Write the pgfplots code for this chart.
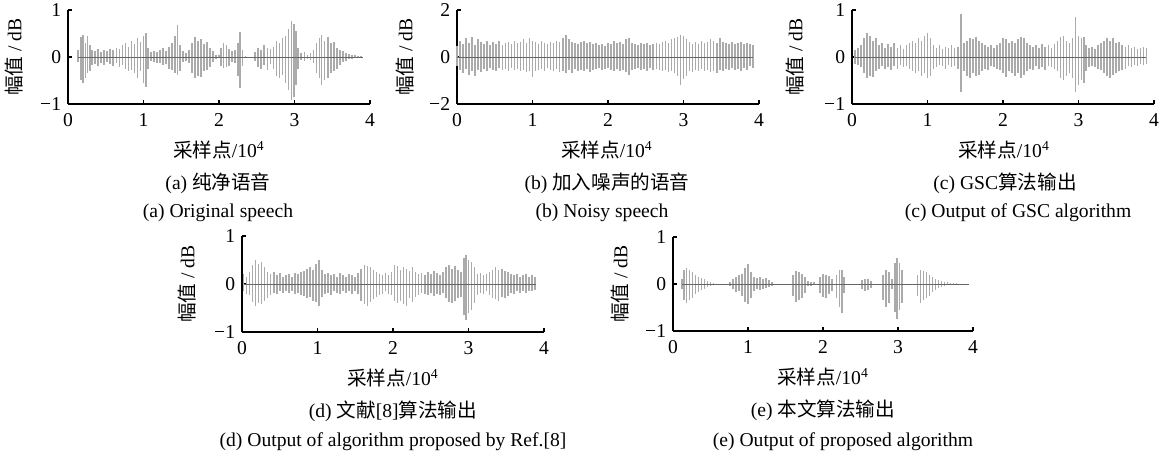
\documentclass[border=0pt]{standalone}
\usepackage{fontspec}
\setmainfont{Liberation Serif}
\newfontfamily\cjk{Noto Sans CJK SC}
\usepackage{pgfplots}
\usepackage{pgfplotstable}
\pgfplotsset{compat=1.18}

\pgfplotstableread{
x hi lo
0.13 0.15 -0.10
0.17 0.42 -0.50
0.20 0.47 -0.55
0.23 0.30 -0.45
0.26 0.44 -0.35
0.29 0.25 -0.30
0.32 0.15 -0.18
0.36 0.12 -0.15
0.40 0.16 -0.20
0.44 0.10 -0.12
0.48 0.14 -0.18
0.52 0.12 -0.10
0.56 0.18 -0.15
0.60 0.15 -0.20
0.64 0.20 -0.12
0.68 0.18 -0.22
0.72 0.25 -0.18
0.76 0.30 -0.25
0.80 0.22 -0.30
0.84 0.35 -0.28
0.88 0.28 -0.35
0.92 0.40 -0.45
0.96 0.32 -0.30
1.00 0.45 -0.55
1.03 0.50 -0.63
1.06 0.20 -0.25
1.10 0.10 -0.08
1.14 0.12 -0.10
1.18 0.10 -0.12
1.22 0.15 -0.12
1.26 0.20 -0.18
1.30 0.12 -0.15
1.34 0.22 -0.25
1.38 0.30 -0.28
1.42 0.45 -0.35
1.45 0.69 -0.38
1.48 0.25 -0.30
1.52 0.12 -0.10
1.56 0.08 -0.08
1.60 0.15 -0.12
1.64 0.30 -0.35
1.68 0.42 -0.45
1.72 0.35 -0.40
1.76 0.38 -0.42
1.80 0.28 -0.30
1.84 0.32 -0.28
1.88 0.20 -0.22
1.92 0.12 -0.10
1.96 0.05 -0.04
2.00 0.04 -0.03
2.03 0.20 -0.20
2.06 0.29 -0.24
2.10 0.25 -0.22
2.13 0.18 -0.20
2.17 0.12 -0.10
2.21 0.15 -0.12
2.25 0.30 -0.40
2.28 0.54 -0.67
2.31 0.15 -0.20
2.35 0.02 -0.02
2.48 0.10 -0.08
2.52 0.20 -0.22
2.56 0.15 -0.25
2.60 0.25 -0.18
2.64 0.20 -0.28
2.68 0.18 -0.15
2.72 0.22 -0.25
2.76 0.35 -0.40
2.80 0.30 -0.45
2.84 0.40 -0.38
2.88 0.45 -0.55
2.92 0.60 -0.70
2.96 0.77 -0.91
2.99 0.70 -0.85
3.02 0.55 -0.60
3.05 0.20 -0.25
3.09 0.08 -0.06
3.13 0.10 -0.08
3.17 0.05 -0.05
3.21 0.08 -0.06
3.25 0.15 -0.12
3.29 0.30 -0.35
3.33 0.40 -0.45
3.36 0.47 -0.60
3.40 0.35 -0.50
3.44 0.42 -0.45
3.48 0.30 -0.35
3.52 0.32 -0.30
3.56 0.20 -0.25
3.60 0.15 -0.18
3.64 0.12 -0.10
3.68 0.08 -0.08
3.72 0.06 -0.05
3.76 0.05 -0.04
3.80 0.04 -0.03
3.84 0.03 -0.02
3.88 0.02 -0.02
}\tA

\pgfplotstableread{
x hi lo
0.00 0.45 -0.40
0.04 0.70 -0.55
0.08 0.55 -0.70
0.12 0.80 -0.50
0.16 0.60 -0.75
0.20 0.85 -0.60
0.24 0.50 -0.80
0.28 0.75 -0.55
0.32 0.65 -0.65
0.36 0.55 -0.50
0.40 0.70 -0.60
0.44 0.50 -0.45
0.48 0.65 -0.55
0.52 0.55 -0.60
0.56 0.70 -0.45
0.60 0.50 -0.55
0.64 0.60 -0.50
0.68 0.65 -0.60
0.72 0.55 -0.45
0.76 0.70 -0.55
0.80 0.60 -0.50
0.84 0.65 -0.60
0.88 0.75 -0.55
0.92 0.60 -0.65
0.96 0.80 -0.60
1.00 0.70 -0.85
1.04 0.65 -0.60
1.08 0.55 -0.55
1.12 0.70 -0.50
1.16 0.60 -0.60
1.20 0.55 -0.45
1.24 0.65 -0.55
1.28 0.60 -0.60
1.32 0.70 -0.50
1.36 0.65 -0.65
1.40 0.80 -0.60
1.44 0.94 -0.70
1.48 0.75 -0.55
1.52 0.65 -0.70
1.56 0.60 -0.50
1.60 0.55 -0.60
1.64 0.65 -0.55
1.68 0.70 -0.60
1.72 0.60 -0.50
1.76 0.65 -0.65
1.80 0.55 -0.55
1.84 0.60 -0.50
1.88 0.50 -0.45
1.92 0.55 -0.55
1.96 0.45 -0.50
2.00 0.60 -0.45
2.04 0.55 -0.55
2.08 0.70 -0.60
2.12 0.60 -0.50
2.16 0.65 -0.60
2.20 0.55 -0.55
2.24 0.75 -0.65
2.28 0.80 -0.75
2.32 0.60 -0.55
2.36 0.55 -0.50
2.40 0.50 -0.45
2.44 0.60 -0.55
2.48 0.55 -0.50
2.52 0.60 -0.60
2.56 0.50 -0.45
2.60 0.55 -0.55
2.64 0.60 -0.50
2.68 0.55 -0.55
2.72 0.65 -0.60
2.76 0.70 -0.55
2.80 0.60 -0.65
2.84 0.75 -0.60
2.88 0.80 -0.70
2.92 0.85 -0.80
2.96 0.94 -1.20
3.00 0.90 -0.95
3.04 0.75 -0.80
3.08 0.65 -0.60
3.12 0.55 -0.65
3.16 0.65 -0.55
3.20 0.55 -0.60
3.24 0.70 -0.50
3.28 0.60 -0.60
3.32 0.65 -0.55
3.36 0.75 -0.65
3.40 0.70 -0.60
3.44 0.60 -0.70
3.48 0.80 -0.55
3.52 0.65 -0.60
3.56 0.60 -0.50
3.60 0.55 -0.55
3.64 0.65 -0.45
3.68 0.55 -0.55
3.72 0.60 -0.50
3.76 0.65 -0.60
3.80 0.55 -0.45
3.84 0.60 -0.55
3.88 0.55 -0.40
3.92 0.50 -0.45
}\tB

\pgfplotstableread{
x hi lo
0.04 0.15 -0.15
0.08 0.20 -0.18
0.12 0.25 -0.22
0.16 0.40 -0.35
0.20 0.52 -0.45
0.24 0.45 -0.40
0.28 0.35 -0.42
0.32 0.40 -0.30
0.36 0.25 -0.25
0.40 0.30 -0.20
0.44 0.20 -0.25
0.48 0.28 -0.22
0.52 0.22 -0.28
0.56 0.30 -0.20
0.60 0.20 -0.25
0.64 0.25 -0.18
0.68 0.18 -0.22
0.72 0.25 -0.20
0.76 0.30 -0.25
0.80 0.35 -0.30
0.84 0.30 -0.35
0.88 0.40 -0.30
0.92 0.35 -0.40
0.96 0.45 -0.35
1.00 0.52 -0.45
1.04 0.40 -0.40
1.08 0.25 -0.25
1.12 0.20 -0.22
1.16 0.25 -0.18
1.20 0.18 -0.20
1.24 0.22 -0.25
1.28 0.20 -0.18
1.32 0.25 -0.22
1.36 0.20 -0.20
1.40 0.22 -0.25
1.44 0.92 -0.74
1.48 0.30 -0.30
1.52 0.35 -0.40
1.56 0.40 -0.45
1.60 0.38 -0.35
1.64 0.42 -0.40
1.68 0.35 -0.38
1.72 0.30 -0.30
1.76 0.25 -0.25
1.80 0.22 -0.28
1.84 0.25 -0.20
1.88 0.20 -0.22
1.92 0.25 -0.25
1.96 0.30 -0.28
2.00 0.40 -0.35
2.04 0.38 -0.42
2.08 0.30 -0.30
2.12 0.35 -0.35
2.16 0.30 -0.40
2.20 0.38 -0.35
2.24 0.42 -0.45
2.28 0.40 -0.38
2.32 0.30 -0.30
2.36 0.25 -0.25
2.40 0.22 -0.28
2.44 0.25 -0.20
2.48 0.20 -0.25
2.52 0.28 -0.22
2.56 0.22 -0.28
2.60 0.25 -0.20
2.64 0.20 -0.22
2.68 0.28 -0.25
2.72 0.35 -0.30
2.76 0.42 -0.45
2.80 0.45 -0.50
2.84 0.35 -0.40
2.88 0.30 -0.35
2.92 0.40 -0.45
2.96 0.85 -0.74
3.00 0.45 -0.60
3.04 0.40 -0.50
3.07 0.42 -0.55
3.10 0.25 -0.30
3.14 0.20 -0.22
3.18 0.22 -0.20
3.22 0.18 -0.22
3.26 0.25 -0.25
3.30 0.30 -0.28
3.34 0.35 -0.35
3.38 0.40 -0.40
3.42 0.35 -0.45
3.46 0.40 -0.38
3.50 0.30 -0.35
3.54 0.32 -0.30
3.58 0.25 -0.28
3.62 0.22 -0.25
3.66 0.25 -0.20
3.70 0.20 -0.22
3.74 0.22 -0.18
3.78 0.18 -0.20
3.82 0.20 -0.15
3.86 0.22 -0.18
3.90 0.20 -0.15
}\tC

\pgfplotstableread{
x hi lo
0.02 0.20 -0.15
0.06 0.15 -0.20
0.10 0.25 -0.22
0.14 0.40 -0.38
0.18 0.49 -0.45
0.22 0.42 -0.40
0.26 0.45 -0.42
0.30 0.35 -0.35
0.34 0.25 -0.30
0.38 0.20 -0.22
0.42 0.25 -0.18
0.46 0.18 -0.20
0.50 0.22 -0.15
0.54 0.15 -0.18
0.58 0.18 -0.15
0.62 0.20 -0.18
0.66 0.15 -0.15
0.70 0.22 -0.20
0.74 0.20 -0.18
0.78 0.25 -0.22
0.82 0.28 -0.25
0.86 0.32 -0.30
0.90 0.35 -0.28
0.94 0.30 -0.35
0.98 0.42 -0.38
1.02 0.49 -0.45
1.06 0.30 -0.28
1.10 0.20 -0.20
1.14 0.22 -0.18
1.18 0.18 -0.22
1.22 0.20 -0.15
1.26 0.15 -0.18
1.30 0.22 -0.20
1.34 0.18 -0.15
1.38 0.15 -0.18
1.42 0.20 -0.15
1.46 0.18 -0.20
1.50 0.15 -0.15
1.54 0.22 -0.20
1.58 0.32 -0.35
1.62 0.40 -0.42
1.66 0.38 -0.45
1.70 0.35 -0.38
1.74 0.30 -0.32
1.78 0.25 -0.28
1.82 0.20 -0.22
1.86 0.18 -0.20
1.90 0.22 -0.15
1.94 0.18 -0.20
1.98 0.25 -0.22
2.02 0.40 -0.35
2.06 0.38 -0.40
2.10 0.30 -0.35
2.14 0.35 -0.42
2.18 0.32 -0.45
2.22 0.28 -0.30
2.26 0.35 -0.38
2.30 0.25 -0.28
2.34 0.20 -0.22
2.38 0.22 -0.18
2.42 0.18 -0.20
2.46 0.25 -0.22
2.50 0.20 -0.18
2.54 0.28 -0.25
2.58 0.22 -0.20
2.62 0.18 -0.22
2.66 0.25 -0.18
2.70 0.35 -0.30
2.74 0.40 -0.38
2.78 0.32 -0.40
2.82 0.38 -0.35
2.86 0.30 -0.30
2.90 0.25 -0.28
2.94 0.55 -0.65
2.97 0.61 -0.76
3.00 0.50 -0.60
3.04 0.45 -0.55
3.08 0.35 -0.40
3.12 0.20 -0.22
3.16 0.22 -0.18
3.20 0.18 -0.20
3.24 0.20 -0.15
3.28 0.25 -0.22
3.32 0.30 -0.30
3.36 0.35 -0.32
3.40 0.30 -0.35
3.44 0.32 -0.28
3.48 0.28 -0.30
3.52 0.25 -0.25
3.56 0.20 -0.18
3.60 0.18 -0.20
3.64 0.20 -0.15
3.68 0.15 -0.18
3.72 0.18 -0.15
3.76 0.20 -0.18
3.80 0.15 -0.15
3.84 0.18 -0.15
3.88 0.15 -0.12
}\tD

\pgfplotstableread{
x hi lo
0.12 0.10 -0.10
0.15 0.30 -0.35
0.18 0.34 -0.41
0.22 0.30 -0.35
0.26 0.25 -0.30
0.30 0.20 -0.22
0.34 0.15 -0.18
0.38 0.12 -0.12
0.42 0.10 -0.10
0.46 0.07 -0.06
0.50 0.05 -0.04
0.54 0.03 -0.03
0.76 0.05 -0.05
0.80 0.10 -0.10
0.84 0.15 -0.18
0.88 0.20 -0.15
0.92 0.22 -0.25
0.96 0.35 -0.38
1.00 0.43 -0.42
1.04 0.25 -0.30
1.08 0.15 -0.15
1.12 0.12 -0.10
1.16 0.15 -0.12
1.20 0.10 -0.10
1.24 0.12 -0.08
1.28 0.08 -0.06
1.32 0.05 -0.04
1.60 0.20 -0.25
1.64 0.27 -0.38
1.68 0.25 -0.35
1.72 0.22 -0.30
1.76 0.15 -0.20
1.80 0.06 -0.05
1.84 0.04 -0.04
1.88 0.05 -0.03
1.96 0.15 -0.20
2.00 0.22 -0.28
2.04 0.20 -0.30
2.08 0.18 -0.22
2.12 0.10 -0.15
2.18 0.20 -0.30
2.22 0.30 -0.50
2.25 0.30 -0.62
2.28 0.15 -0.20
2.52 0.08 -0.10
2.56 0.10 -0.15
2.60 0.10 -0.12
2.64 0.06 -0.08
2.80 0.20 -0.35
2.84 0.30 -0.50
2.88 0.25 -0.40
2.92 0.10 -0.10
2.96 0.45 -0.60
2.99 0.55 -0.74
3.02 0.45 -0.55
3.05 0.30 -0.40
3.26 0.20 -0.25
3.30 0.30 -0.40
3.34 0.28 -0.35
3.38 0.25 -0.30
3.42 0.20 -0.25
3.46 0.15 -0.18
3.50 0.10 -0.12
3.54 0.08 -0.08
3.58 0.06 -0.06
3.62 0.05 -0.04
3.66 0.04 -0.03
3.70 0.03 -0.03
3.74 0.03 -0.02
3.78 0.02 -0.02
}\tE

\pgfplotsset{
  wave/.style={
    scale only axis, width=151pt, height=47pt,
    xmin=0, xmax=4, ymin=-1, ymax=1,
    axis lines=left, axis line style={-, line width=0.6pt},
    tick align=inside, major tick length=2.2pt,
    tick style={black, line width=0.6pt},
    xtick={0,1,2,3,4}, ytick={-1,0,1}, yticklabels={−1,0,1},
    /pgf/number format/assume math mode=true,
    xticklabel style={yshift=-1.5pt},
    clip=false, anchor=south west,
  },
  spike/.style={ycomb, no markers, draw=black!33, line width=0.8pt},
  base/.style={no markers, draw=black!60, line width=0.4pt},
}

\begin{document}
\fontsize{9.8pt}{11pt}\selectfont
\begin{tikzpicture}
\useasboundingbox (0,0) rectangle (584pt,230.5pt);

% (a)
\begin{axis}[wave, at={(34pt,178.5pt)}]
\addplot[spike] table[x=x,y=hi] {\tA};
\addplot[spike] table[x=x,y=lo] {\tA};
\addplot[base] coordinates {(0.13,0) (3.91,0)};
\end{axis}
% (b)
\begin{axis}[wave, at={(228.5pt,178.5pt)}, ymin=-2, ymax=2, ytick={-2,0,2}, yticklabels={−2,0,2}]
\addplot[spike] table[x=x,y=hi] {\tB};
\addplot[spike] table[x=x,y=lo] {\tB};
\addplot[base] coordinates {(0,0) (3.92,0)};
\end{axis}
% (c)
\begin{axis}[wave, at={(426pt,178.5pt)}]
\addplot[spike] table[x=x,y=hi] {\tC};
\addplot[spike] table[x=x,y=lo] {\tC};
\addplot[base] coordinates {(0.04,0) (3.90,0)};
\end{axis}
% (d)
\begin{axis}[wave, at={(121pt,64.5pt)}, height=48pt]
\addplot[spike] table[x=x,y=hi] {\tD};
\addplot[spike] table[x=x,y=lo] {\tD};
\addplot[base] coordinates {(0.02,0) (3.90,0)};
\end{axis}
% (e)
\begin{axis}[wave, at={(336.5pt,65pt)}, width=150pt, height=47pt]
\addplot[spike] table[x=x,y=hi] {\tE};
\addplot[spike] table[x=x,y=lo] {\tE};
\addplot[base] coordinates {(0.12,0) (3.94,0)};
\end{axis}

% y labels
\foreach \xx/\yy in {7/202, 202.5/202, 397.5/202, 93.5/88.5, 310/88.5}
  \node[rotate=90] at (\xx pt,\yy pt) {{\cjk 幅值} / dB};
% x labels
\foreach \xx/\yy in {109.5/155.5, 303.5/155.5, 502/155.5, 196.5/41.5, 411.5/42}
  \node at (\xx pt,\yy pt) {{\cjk 采样点}/10\textsuperscript{4}};

% captions
\node at (109pt,139pt) {(a) {\cjk 纯净语音}};
\node at (109pt,124pt) {(a) Original speech};
\node at (303.5pt,139pt) {(b) {\cjk 加入噪声的语音}};
\node at (301pt,124pt) {(b) Noisy speech};
\node at (502.5pt,139pt) {(c) GSC{\cjk 算法输出}};
\node at (509pt,124pt) {(c) Output of GSC algorithm};
\node at (196.5pt,25pt) {(d) {\cjk 文献}[8]{\cjk 算法输出}};
\node at (196.5pt,9.5pt) {(d) Output of algorithm proposed by Ref.[8]};
\node at (411.5pt,25.5pt) {(e) {\cjk 本文算法输出}};
\node at (421.5pt,9.5pt) {(e) Output of proposed algorithm};
\end{tikzpicture}
\end{document}
